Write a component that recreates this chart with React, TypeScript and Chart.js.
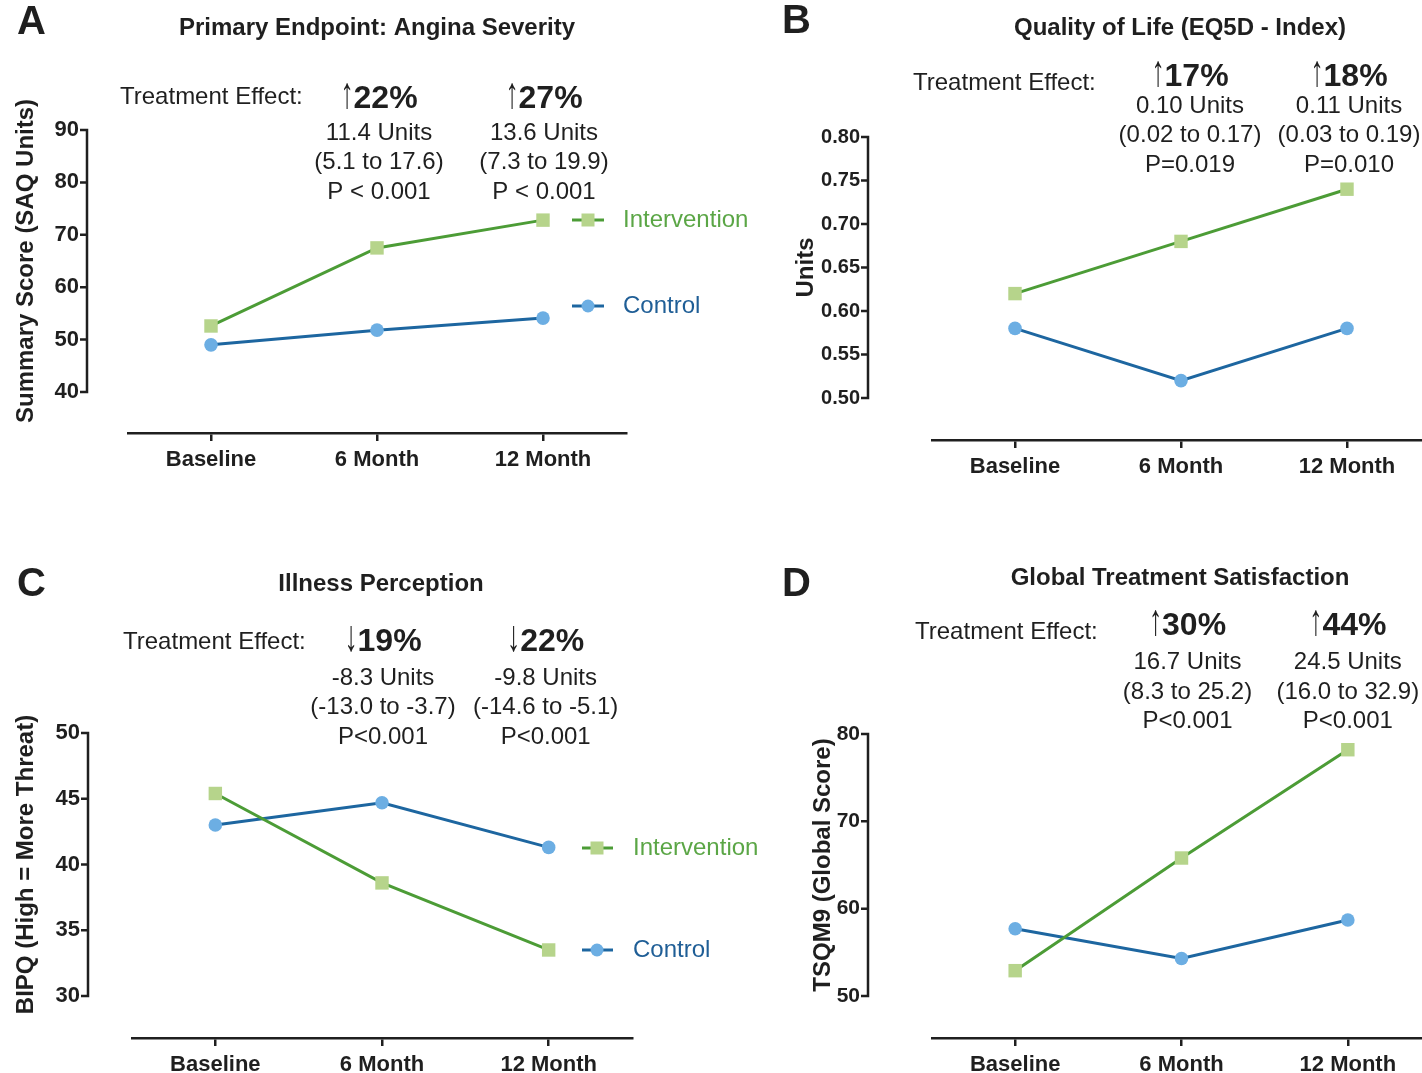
import React, { useEffect, useRef } from "react";
import { Chart, registerables } from "chart.js";

Chart.register(...registerables);

// ---------------- DATA ----------------
const CATEGORIES = ["Baseline", "6 Month", "12 Month"];
const SERIES_NAMES = ["Intervention", "Control"];

// Panel A – Primary Endpoint: Angina Severity
const A_INTERVENTION = [52.6, 67.5, 72.8];
const A_CONTROL = [49.0, 51.8, 54.1];
const A_TICKS = [40, 50, 60, 70, 80, 90];
const A_EFFECT_DIR = ["↑", "↑"];
const A_EFFECT_PCT = ["22%", "27%"];
const A_EFFECT_UNITS = ["11.4 Units", "13.6 Units"];
const A_EFFECT_CI = ["(5.1 to 17.6)", "(7.3 to 19.9)"];
const A_EFFECT_P = ["P < 0.001", "P < 0.001"];

// Panel B – Quality of Life (EQ5D - Index)
const B_INTERVENTION = [0.62, 0.68, 0.74];
const B_CONTROL = [0.58, 0.52, 0.58];
const B_TICKS = [0.5, 0.55, 0.6, 0.65, 0.7, 0.75, 0.8];
const B_EFFECT_DIR = ["↑", "↑"];
const B_EFFECT_PCT = ["17%", "18%"];
const B_EFFECT_UNITS = ["0.10 Units", "0.11 Units"];
const B_EFFECT_CI = ["(0.02 to 0.17)", "(0.03 to 0.19)"];
const B_EFFECT_P = ["P=0.019", "P=0.010"];

// Panel C – Illness Perception
const C_INTERVENTION = [45.4, 38.6, 33.5];
const C_CONTROL = [43.0, 44.7, 41.3];
const C_TICKS = [30, 35, 40, 45, 50];
const C_EFFECT_DIR = ["↓", "↓"];
const C_EFFECT_PCT = ["19%", "22%"];
const C_EFFECT_UNITS = ["-8.3 Units", "-9.8 Units"];
const C_EFFECT_CI = ["(-13.0 to -3.7)", "(-14.6 to -5.1)"];
const C_EFFECT_P = ["P<0.001", "P<0.001"];

// Panel D – Global Treatment Satisfaction
const D_INTERVENTION = [52.9, 65.8, 78.2];
const D_CONTROL = [57.7, 54.3, 58.7];
const D_TICKS = [50, 60, 70, 80];
const D_EFFECT_DIR = ["↑", "↑"];
const D_EFFECT_PCT = ["30%", "44%"];
const D_EFFECT_UNITS = ["16.7 Units", "24.5 Units"];
const D_EFFECT_CI = ["(8.3 to 25.2)", "(16.0 to 32.9)"];
const D_EFFECT_P = ["P<0.001", "P<0.001"];

// ---------------- STYLE ----------------
const FONT = "'Liberation Sans', Arial, Helvetica, sans-serif";
const INK = "#1f1f1f";
const GREEN_LINE = "#4c9c36";
const GREEN_MARK = "#b6d48b";
const GREEN_TEXT = "#5ba646";
const BLUE_LINE = "#1d66a0";
const BLUE_MARK = "#6caee3";
const BLUE_TEXT = "#1f5e96";

type Panel = {
  letter: string;
  title: string;
  yTitle: string;
  ticks: number[];
  decimals: number;
  tickFont: number;
  intervention: number[];
  control: number[];
  dir: string[];
  pct: string[];
  units: string[];
  ci: string[];
  p: string[];
  box: { x: number; y: number; w: number; h: number };
  area: { l: number; r: number; top: number; yMinPix: number; bottom: number };
  axisX: number;
  letterPos: [number, number];
  titlePos: [number, number];
  yTitleX: number;
  tePos: [number, number];
  pctY: number;
  lineYs: number[];
  colDx: number[];
  legend: null | { x0: number; x1: number; xm: number; tx: number; yI: number; yC: number };
};

const PANELS: Panel[] = [
  {
    letter: "A",
    title: "Primary Endpoint: Angina Severity",
    yTitle: "Summary Score (SAQ Units)",
    ticks: A_TICKS,
    decimals: 0,
    tickFont: 22,
    intervention: A_INTERVENTION,
    control: A_CONTROL,
    dir: A_EFFECT_DIR,
    pct: A_EFFECT_PCT,
    units: A_EFFECT_UNITS,
    ci: A_EFFECT_CI,
    p: A_EFFECT_P,
    box: { x: 0, y: 0, w: 780, h: 536 },
    area: { l: 128, r: 626, top: 130, yMinPix: 392, bottom: 433 },
    axisX: 87,
    letterPos: [17, 23],
    titlePos: [377, 28],
    yTitleX: 26,
    tePos: [120, 97],
    pctY: 97,
    lineYs: [133, 162, 192],
    colDx: [2, 1],
    legend: { x0: 572, x1: 604, xm: 588, tx: 623, yI: 220, yC: 306 },
  },
  {
    letter: "B",
    title: "Quality of Life (EQ5D - Index)",
    yTitle: "Units",
    ticks: B_TICKS,
    decimals: 2,
    tickFont: 20,
    intervention: B_INTERVENTION,
    control: B_CONTROL,
    dir: B_EFFECT_DIR,
    pct: B_EFFECT_PCT,
    units: B_EFFECT_UNITS,
    ci: B_EFFECT_CI,
    p: B_EFFECT_P,
    box: { x: 711, y: 0, w: 740, h: 536 },
    area: { l: 932, r: 1430, top: 137, yMinPix: 398, bottom: 440 },
    axisX: 868,
    letterPos: [782, 22],
    titlePos: [1180, 28],
    yTitleX: 806,
    tePos: [913, 83],
    pctY: 75,
    lineYs: [106, 135, 165],
    colDx: [9, 2],
    legend: null,
  },
  {
    letter: "C",
    title: "Illness Perception",
    yTitle: "BIPQ (High = More Threat)",
    ticks: C_TICKS,
    decimals: 0,
    tickFont: 22,
    intervention: C_INTERVENTION,
    control: C_CONTROL,
    dir: C_EFFECT_DIR,
    pct: C_EFFECT_PCT,
    units: C_EFFECT_UNITS,
    ci: C_EFFECT_CI,
    p: C_EFFECT_P,
    box: { x: 0, y: 536, w: 780, h: 537 },
    area: { l: 132, r: 632, top: 733, yMinPix: 996, bottom: 1038 },
    axisX: 88,
    letterPos: [17, 585],
    titlePos: [381, 584],
    yTitleX: 26,
    tePos: [123, 642],
    pctY: 640,
    lineYs: [678, 707, 737],
    colDx: [1, -3],
    legend: { x0: 582, x1: 613, xm: 597, tx: 633, yI: 848, yC: 950 },
  },
  {
    letter: "D",
    title: "Global Treatment Satisfaction",
    yTitle: "TSQM9 (Global Score)",
    ticks: D_TICKS,
    decimals: 0,
    tickFont: 21,
    intervention: D_INTERVENTION,
    control: D_CONTROL,
    dir: D_EFFECT_DIR,
    pct: D_EFFECT_PCT,
    units: D_EFFECT_UNITS,
    ci: D_EFFECT_CI,
    p: D_EFFECT_P,
    box: { x: 711, y: 536, w: 740, h: 537 },
    area: { l: 932, r: 1431, top: 734, yMinPix: 996, bottom: 1038 },
    axisX: 868,
    letterPos: [782, 585],
    titlePos: [1180, 578],
    yTitleX: 823,
    tePos: [915, 632],
    pctY: 624,
    lineYs: [662, 692, 721],
    colDx: [6, 0],
    legend: null,
  },
];

function PanelChart({ cfg }: { cfg: Panel }) {
  const ref = useRef<HTMLCanvasElement | null>(null);

  useEffect(() => {
    if (!ref.current) return;
    const { box, area, ticks } = cfg;
    const tickMin = ticks[0];
    const tickMax = ticks[ticks.length - 1];
    const pxPerUnit = (area.yMinPix - area.top) / (tickMax - tickMin);
    const yMin = tickMin - (area.bottom - area.yMinPix) / pxPerUnit;
    const ox = box.x;
    const oy = box.y;

    const decor = {
      id: "panelDecor" + cfg.letter,
      afterDraw(chart: any) {
        const ctx = chart.ctx as CanvasRenderingContext2D;
        const yScale = chart.scales.y;
        const xScale = chart.scales.x;
        ctx.save();
        // y axis line + tick marks
        const ax = cfg.axisX - ox;
        const yTop = yScale.getPixelForValue(tickMax);
        const yBot = yScale.getPixelForValue(tickMin);
        ctx.strokeStyle = INK;
        ctx.lineWidth = 2.5;
        ctx.lineCap = "butt";
        ctx.beginPath();
        ctx.moveTo(ax, yTop - 1.25);
        ctx.lineTo(ax, yBot + 1.25);
        for (const t of ticks) {
          const py = yScale.getPixelForValue(t);
          ctx.moveTo(ax - 7, py);
          ctx.lineTo(ax, py);
        }
        ctx.stroke();

        ctx.fillStyle = INK;
        // panel letter
        ctx.font = `bold 40px ${FONT}`;
        ctx.textAlign = "left";
        ctx.textBaseline = "middle";
        ctx.fillText(cfg.letter, cfg.letterPos[0] - ox, cfg.letterPos[1] - oy);
        // title
        ctx.font = `bold 24px ${FONT}`;
        ctx.textAlign = "center";
        ctx.fillText(cfg.title, cfg.titlePos[0] - ox, cfg.titlePos[1] - oy);
        // y title
        ctx.save();
        ctx.translate(cfg.yTitleX - ox, (yTop + yBot) / 2);
        ctx.rotate(-Math.PI / 2);
        ctx.font = `bold 24px ${FONT}`;
        ctx.textAlign = "center";
        ctx.textBaseline = "middle";
        ctx.fillText(cfg.yTitle, 0, 0);
        ctx.restore();

        // treatment effect
        ctx.font = `24px ${FONT}`;
        ctx.textAlign = "left";
        ctx.textBaseline = "middle";
        ctx.fillText("Treatment Effect:", cfg.tePos[0] - ox, cfg.tePos[1] - oy);
        const ARROW_SIZE = 44;
        const ARROW_SX = 0.6;
        for (let i = 0; i < cfg.pct.length; i++) {
          const cx = xScale.getPixelForValue(i + 1) + cfg.colDx[i];
          ctx.font = `${ARROW_SIZE}px ${FONT}`;
          const aw = ctx.measureText(cfg.dir[i]).width * ARROW_SX;
          ctx.font = `bold 32px ${FONT}`;
          const pw = ctx.measureText(cfg.pct[i]).width;
          const start = cx - (aw + pw) / 2;
          ctx.textAlign = "left";
          ctx.textBaseline = "alphabetic";
          const base = cfg.pctY - oy + 11;
          ctx.save();
          ctx.translate(start, base);
          ctx.scale(ARROW_SX, 1);
          ctx.font = `${ARROW_SIZE}px ${FONT}`;
          ctx.fillText(cfg.dir[i], 0, 0);
          ctx.restore();
          ctx.font = `bold 32px ${FONT}`;
          ctx.fillText(cfg.pct[i], start + aw, base);
          // lines
          ctx.font = `24px ${FONT}`;
          ctx.textAlign = "center";
          ctx.textBaseline = "middle";
          ctx.fillText(cfg.units[i], cx, cfg.lineYs[0] - oy);
          ctx.fillText(cfg.ci[i], cx, cfg.lineYs[1] - oy);
          ctx.fillText(cfg.p[i], cx, cfg.lineYs[2] - oy);
        }

        // legend
        if (cfg.legend) {
          const L = cfg.legend;
          const entries = [
            { name: SERIES_NAMES[0], y: L.yI, line: GREEN_LINE, mark: GREEN_MARK, text: GREEN_TEXT, square: true },
            { name: SERIES_NAMES[1], y: L.yC, line: BLUE_LINE, mark: BLUE_MARK, text: BLUE_TEXT, square: false },
          ];
          for (const e of entries) {
            const yy = e.y - oy;
            ctx.strokeStyle = e.line;
            ctx.lineWidth = 3;
            ctx.beginPath();
            ctx.moveTo(L.x0 - ox, yy);
            ctx.lineTo(L.x1 - ox, yy);
            ctx.stroke();
            ctx.fillStyle = e.mark;
            if (e.square) {
              ctx.fillRect(L.xm - ox - 6.5, yy - 6.5, 13, 13);
            } else {
              ctx.beginPath();
              ctx.arc(L.xm - ox, yy, 6.5, 0, Math.PI * 2);
              ctx.fill();
            }
            ctx.fillStyle = e.text;
            ctx.font = `24px ${FONT}`;
            ctx.textAlign = "left";
            ctx.textBaseline = "middle";
            ctx.fillText(e.name, L.tx - ox, yy);
          }
        }
        ctx.restore();
      },
    };

    const chart = new Chart(ref.current, {
      type: "line",
      data: {
        labels: CATEGORIES,
        datasets: [
          {
            label: SERIES_NAMES[0],
            data: cfg.intervention,
            borderColor: GREEN_LINE,
            borderWidth: 3,
            pointStyle: "rect",
            pointRadius: 9.5,
            pointBackgroundColor: GREEN_MARK,
            pointBorderColor: GREEN_MARK,
            pointBorderWidth: 0,
            tension: 0,
            clip: false,
          } as any,
          {
            label: SERIES_NAMES[1],
            data: cfg.control,
            borderColor: BLUE_LINE,
            borderWidth: 3,
            pointStyle: "circle",
            pointRadius: 6.8,
            pointBackgroundColor: BLUE_MARK,
            pointBorderColor: BLUE_MARK,
            pointBorderWidth: 0,
            tension: 0,
            clip: false,
          } as any,
        ],
      },
      options: {
        responsive: false,
        animation: false,
        devicePixelRatio: 1,
        layout: {
          autoPadding: false,
          padding: { left: 0, top: area.top - box.y, right: box.x + box.w - area.r, bottom: 0 },
        },
        plugins: {
          legend: { display: false },
          tooltip: { enabled: false },
          title: { display: false },
        },
        scales: {
          x: {
            type: "category",
            offset: true,
            grid: {
              display: true,
              drawOnChartArea: false,
              drawTicks: true,
              tickLength: 8,
              color: INK,
              lineWidth: 2.5,
            },
            border: { display: true, color: INK, width: 2.5 },
            ticks: {
              color: INK,
              font: { family: FONT, size: 22, weight: "bold" },
              padding: 6,
              maxRotation: 0,
              autoSkip: false,
            },
            afterFit: (s: any) => {
              s.height = box.y + box.h - area.bottom;
              s.paddingLeft = 0;
              s.paddingRight = 0;
              s.paddingTop = 0;
              s.paddingBottom = 0;
            },
          },
          y: {
            type: "linear",
            min: yMin,
            max: tickMax,
            grid: { display: false, drawTicks: false },
            border: { display: false },
            ticks: {
              color: INK,
              font: { family: FONT, size: cfg.tickFont, weight: "bold" },
              padding: area.l - cfg.axisX + 8,
              callback: (v: any) => Number(v).toFixed(cfg.decimals),
            },
            afterBuildTicks: (s: any) => {
              s.ticks = ticks.map((v) => ({ value: v }));
            },
            afterFit: (s: any) => {
              s.width = area.l - box.x;
              s.paddingLeft = 0;
              s.paddingRight = 0;
              s.paddingTop = 0;
              s.paddingBottom = 0;
            },
          },
        },
      } as any,
      plugins: [decor],
    });
    return () => chart.destroy();
  }, [cfg]);

  return (
    <canvas
      ref={ref}
      width={cfg.box.w}
      height={cfg.box.h}
      style={{ position: "absolute", left: cfg.box.x, top: cfg.box.y, width: cfg.box.w, height: cfg.box.h }}
    />
  );
}

export default function App() {
  return (
    <div
      style={{
        position: "absolute",
        left: 0,
        top: 0,
        width: 1422,
        height: 1073,
        overflow: "hidden",
        background: "#ffffff",
      }}
    >
      {PANELS.map((p) => (
        <PanelChart key={p.letter} cfg={p} />
      ))}
    </div>
  );
}
